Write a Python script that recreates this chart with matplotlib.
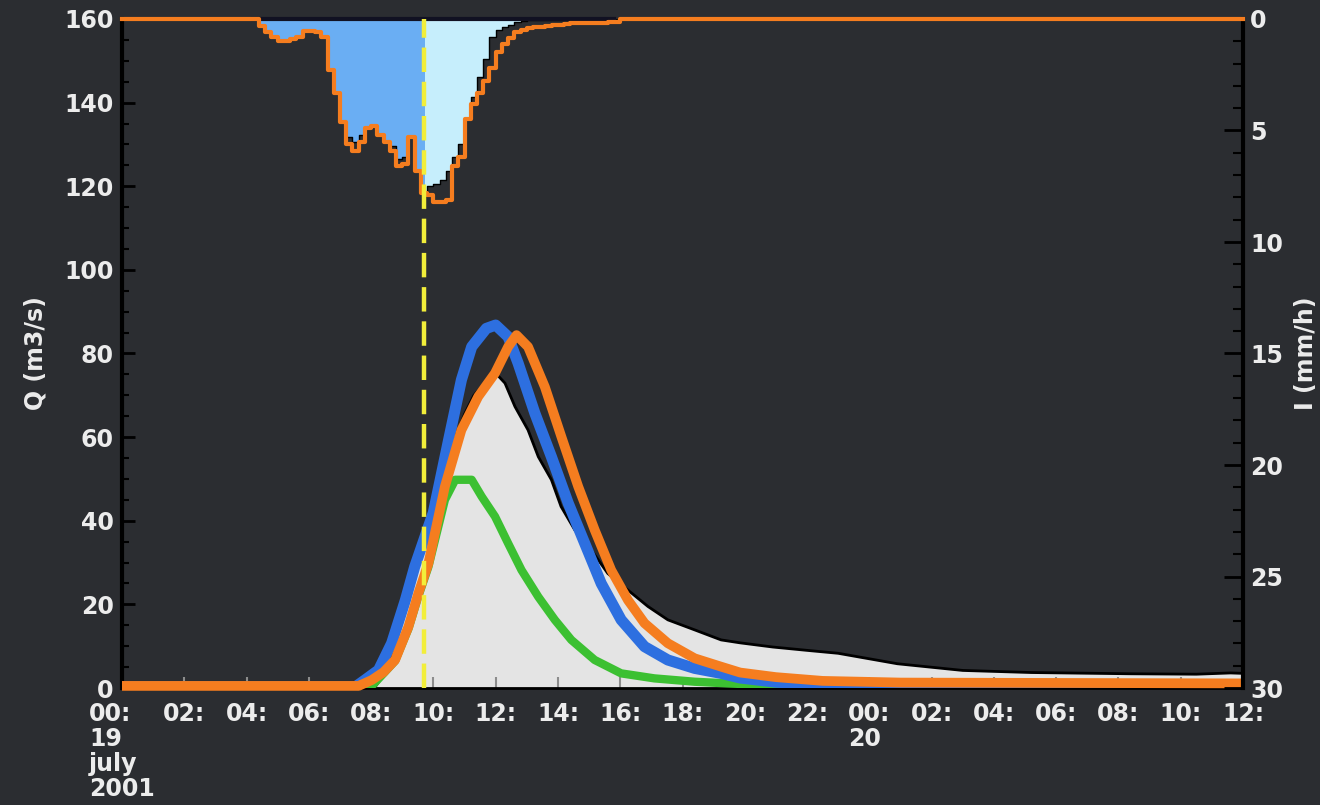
import matplotlib
matplotlib.use("Agg")
import matplotlib.pyplot as plt
from matplotlib.patches import Rectangle
from matplotlib.ticker import MultipleLocator

plt.rcParams["font.family"] = ["DejaVu Sans"]
plt.rcParams["font.weight"] = "bold"

BG = "#2b2d31"
TXT = "#ececec"
ORANGE = "#f57d1f"
BLUE = "#2d6fe0"
GREEN = "#3cc032"
RAIN_BLUE = "#6aaef3"
RAIN_CYAN = "#c6eefc"
YELLOW = "#f2ee3a"

# ── data (hours since 19 July 2001 00:00) ─────────────────────────────────
obs_hours = [0, 8.1, 8.4, 8.7, 9.1, 9.4, 9.7, 10.0, 10.2, 10.5, 11.0, 11.3,
             11.6, 12.0, 12.3, 12.62, 13.04, 13.37, 13.79, 14.1, 14.54,
             15.07, 15.6, 16.25, 16.89, 17.53, 18.39, 19.24, 19.85, 20.9,
             22.0, 23.0, 24.9, 27.0, 29.2, 32.4, 34.5, 35.6, 36.0]
obs_q = [0, 0, 3, 9, 19, 27, 34, 41, 48, 56, 65.5, 70,
         72.5, 75.3, 72.9, 67.3, 61.7, 55.3, 49.8, 43.4, 37.8,
         33, 27.4, 23.4, 19.5, 16.3, 13.9, 11.5, 10.8, 9.8,
         9.0, 8.3, 5.8, 4.2, 3.7, 3.4, 3.3, 3.6, 3.5]

blue_hours = [0, 7.5, 7.8, 8.24, 8.66, 9.1, 9.4, 10.0, 10.48, 10.9, 11.23,
              11.7, 12.0, 12.4, 12.72, 13.26, 13.79, 14.33, 14.86, 15.39,
              16.03, 16.78, 17.53, 18.39, 19.24, 19.85, 21.0, 22.5, 36]
blue_q = [0.3, 0.3, 1.9, 4.3, 10.7, 21, 29, 42, 59, 73.7, 81.6,
          86, 86.8, 84, 77.7, 65.7, 55.3, 44.2, 34.6, 25,
          16.3, 9.9, 6.7, 4.7, 3.5, 2.4, 1.4, 0.8, 0.5]

orange_hours = [0, 7.6, 8.02, 8.4, 8.77, 9.2, 9.52, 9.84, 10.37, 10.9, 11.44,
                11.98, 12.4, 12.67, 13.04, 13.58, 14.11, 14.65, 15.18, 15.71,
                16.25, 16.78, 17.53, 18.39, 19.24, 19.85, 21.0, 22.5, 25.0, 36]
orange_q = [0.5, 0.5, 1.9, 3.8, 6.7, 14.7, 22.7, 29.8, 48.2, 61.7, 69.7,
            75.3, 81.6, 84.4, 81.6, 72, 60.1, 48.2, 37.8, 28.2,
            21, 15.5, 10.7, 7.1, 5.1, 3.7, 2.6, 1.7, 1.3, 1.1]

green_hours = [0, 8.0, 8.4, 8.77, 9.2, 9.52, 9.84, 10.37, 10.7, 11.23, 11.55,
               11.98, 12.4, 12.83, 13.37, 13.9, 14.43, 15.18, 16.03, 17.1,
               18.39, 19.45, 21.0, 36]
green_q = [0.3, 0.3, 3.5, 6.5, 14.2, 22, 29, 45, 49.8, 49.8, 45.8,
           41, 34.6, 28.2, 21.8, 16.3, 11.5, 6.7, 3.5, 2.3,
           1.5, 1.1, 0.6, 0.3]

# rainfall intensity (mm/h), 12-min steps from 04:12 to 16:00
RAIN_START_H = 4.2
RAIN_STEP_H = 0.2
rain_fill = [0, 0.3, 0.6, 0.8, 1.0, 1.0, 0.9, 0.8, 0.55, 0.55,
             0.6, 0.8, 2.3, 3.3, 4.6, 5.3, 5.5, 5.2, 4.9, 4.8,
             5.2, 5.5, 5.7, 6.3, 6.2, 5.3, 6.8, 7.8, 7.5, 7.4,
             7.2, 6.8, 6.2, 5.6, 4.5, 3.5, 2.6, 1.8, 0.8, 0.5,
             0.35, 0.25, 0.15, 0.1, 0.05, 0.05, 0.05, 0.05, 0.05, 0.05,
             0.05, 0.05, 0.05, 0.05, 0.05, 0.05, 0.05, 0.05, 0, 0]
rain_line = [0, 0.3, 0.6, 0.8, 1.0, 1.0, 0.9, 0.8, 0.55, 0.55,
             0.6, 0.8, 2.3, 3.3, 4.6, 5.6, 5.9, 5.5, 4.9, 4.8,
             5.2, 5.5, 5.9, 6.6, 6.5, 5.3, 6.8, 7.8, 7.9, 8.2,
             8.2, 8.1, 6.6, 6.2, 4.5, 3.8, 3.3, 2.8, 2.2, 1.5,
             1.1, 0.85, 0.6, 0.5, 0.42, 0.38, 0.34, 0.3, 0.28, 0.25,
             0.22, 0.2, 0.2, 0.18, 0.18, 0.17, 0.16, 0.15, 0.15, 0]

forecast_time_h = 9.7

x_ticks = list(range(0, 37, 2))
x_tick_labels = ["00:\n19\njuly\n2001", "02:", "04:", "06:", "08:", "10:",
                 "12:", "14:", "16:", "18:", "20:", "22:", "00:\n20",
                 "02:", "04:", "06:", "08:", "10:", "12:"]
q_ticks = [0, 20, 40, 60, 80, 100, 120, 140, 160]
i_ticks = [0, 5, 10, 15, 20, 25, 30]

# ── figure ────────────────────────────────────────────────────────────────
W, H = 1320, 805
fig = plt.figure(figsize=(W / 100, H / 100), dpi=100, facecolor=BG)
ax = fig.add_axes([122 / W, 1 - 688 / H, (1243 - 122) / W, (688 - 19) / H])
ax.set_facecolor(BG)

# observed discharge
ax.fill_between(obs_hours, 0, obs_q, color="#e4e4e4", lw=0, zorder=1)
ax.plot(obs_hours, obs_q, color="black", lw=2, zorder=2)

# simulated discharges
line_kw = dict(solid_capstyle="butt", solid_joinstyle="round")
ax.plot(green_hours, green_q, color=GREEN, lw=6, zorder=3, **line_kw)
ax.plot(blue_hours, blue_q, color=BLUE, lw=8, zorder=4, **line_kw)
ax.plot(orange_hours, orange_q, color=ORANGE, lw=7, zorder=5,
        clip_on=False, **line_kw)

ax.set_xlim(0, 36)
ax.set_ylim(0, 160)
ax.set_yticks(q_ticks)
ax.yaxis.set_minor_locator(MultipleLocator(5))
ax.set_xticks(x_ticks)
ax.set_xticklabels(x_tick_labels)
for lbl in ax.get_xticklabels():
    lbl.set_multialignment("left")
    lbl.set_linespacing(1.05)
ax.tick_params(axis="x", direction="in", length=8, width=1.5,
               color="#8c8c8c", labelcolor=TXT, labelsize=17, pad=10)
ax.tick_params(axis="y", which="major", direction="in", length=9, width=2,
               color="black", labelcolor=TXT, labelsize=17, pad=6)
ax.tick_params(axis="y", which="minor", direction="in", length=5, width=1.5,
               color="black")
ax.set_ylabel("Q (m3/s)", color=TXT, fontsize=17, fontweight="bold",
              labelpad=12)

for side in ("top", "right"):
    ax.spines[side].set_visible(False)
ax.spines["left"].set_linewidth(3)
ax.spines["left"].set_color("black")
ax.spines["bottom"].set_linewidth(2)
ax.spines["bottom"].set_color("black")

# ── rainfall on inverted right axis ───────────────────────────────────────
ax2 = ax.twinx()
n = len(rain_line)
rain_hours = [0.0] + [round(RAIN_START_H + RAIN_STEP_H * k, 2) for k in range(n)] + [36.0]
fill_vals = [0.0] + rain_fill + [0.0]
line_vals = [0.0] + rain_line + [0.0]

cyan = ax2.fill_between(rain_hours, 0, fill_vals, step="post",
                        color=RAIN_CYAN, lw=0, zorder=1)
cyan.set_clip_path(Rectangle((forecast_time_h, 0), 36 - forecast_time_h, 30,
                             transform=ax2.transData))
blue = ax2.fill_between(rain_hours, 0, fill_vals, step="post",
                        color=RAIN_BLUE, lw=0, zorder=1)
blue.set_clip_path(Rectangle((0, 0), forecast_time_h, 30,
                             transform=ax2.transData))
ax2.step(rain_hours, fill_vals, where="post", color="black", lw=1, zorder=2)
ax2.plot([4.2, 15.8], [0, 0], color="#111122", lw=3, zorder=2, clip_on=False)
ax2.step(rain_hours, line_vals, where="post", color=ORANGE, lw=3, zorder=3,
         clip_on=False)

ax2.axvline(forecast_time_h, color=YELLOW, lw=3.2, dashes=(5.5, 2.2), zorder=6,
            clip_on=False)

ax2.set_ylim(30, 0)
ax2.set_yticks(i_ticks)
ax2.yaxis.set_minor_locator(MultipleLocator(1))
ax2.tick_params(axis="y", which="major", direction="in", length=14, width=2,
                color="black", labelcolor=TXT, labelsize=17, pad=5)
ax2.tick_params(axis="y", which="minor", direction="in", length=7, width=1.5,
                color="black")
ax2.set_ylabel("I (mm/h)", color=TXT, fontsize=17, fontweight="bold",
               labelpad=8)
for side in ("top", "left", "bottom"):
    ax2.spines[side].set_visible(False)
ax2.spines["right"].set_linewidth(3)
ax2.spines["right"].set_color("black")

fig.savefig("out.png", dpi=100, facecolor=BG)
